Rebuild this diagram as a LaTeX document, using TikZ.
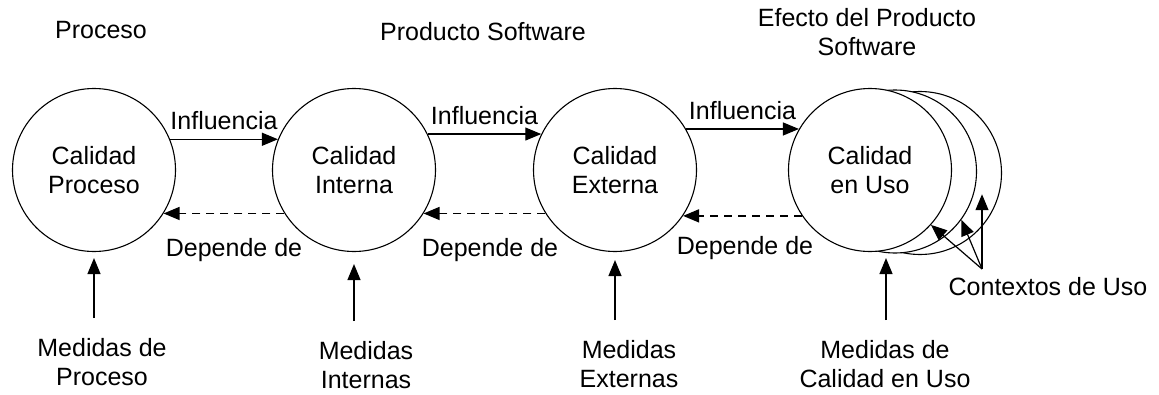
\documentclass[tikz,border=0pt]{standalone}
\usepackage{fontspec}
\setmainfont{Liberation Sans}
\usetikzlibrary{arrows.meta}

\tikzset{
	lbl/.style={font=\fontsize{25}{29}\selectfont, align=center, inner sep=0pt},
	qual/.style={lbl, circle, draw, line width=1.1pt, minimum size=163pt, fill=white},
	arr/.style={line width=1.2pt, -{Triangle[length=16pt,width=13pt]}},
	dep/.style={arr, line width=1.5pt, dash pattern=on 8pt off 6pt}
}

\begin{document}
\begin{tikzpicture}[x=1pt,y=-1pt]
		\useasboundingbox (0,0) rectangle (1159,394);
		% circulos
		\node[qual] (cp) at (94,170) {Calidad\\Proceso};
		\node[qual] (ci) at (354,170) {Calidad\\Interna};
		\node[qual] (ce) at (615,170) {Calidad\\Externa};
		\node[qual] (cu3) at (920,173) {};
		\node[qual] (cu2) at (895,171.5) {};
		\node[qual] (cu) at (870,170) {Calidad\\en Uso};
		% titulos
		\node[lbl] (tp) at (101,30) {Proceso};
		\node[lbl] (ts) at (483,32) {Producto Software};
		\node[lbl] (te) at (867,32) {Efecto del Producto\\Software};
		% influencia
		\draw[arr] (cp.22) -- (ci.158) node[lbl, midway, above=9pt] (i1) {Influencia};
		\draw[arr] (ci.26) -- (ce.154) node[lbl, midway, above=9pt] (i2) {Influencia};
		\draw[arr] (ce.30) -- (cu.150) node[lbl, midway, above=9pt] (i3) {Influencia};
		% depende de
		\draw[dep] (ci.212) -- (cp.-32);
		\draw[dep] (ce.212) -- (ci.-32);
		\draw[dep] (cu.214) -- (ce.-34);
		\node[lbl] (d1) at (234,250) {Depende de};
		\node[lbl] (d2) at (490,250) {Depende de};
		\node[lbl] (d3) at (745,248) {Depende de};
		% medidas
		\node[lbl] (mp) at (102,362) {Medidas de\\Proceso};
		\node[lbl] (mi) at (366,365) {Medidas\\Internas};
		\node[lbl] (me) at (629,364) {Medidas\\Externas};
		\node[lbl] (mu) at (885,364) {Medidas de\\Calidad en Uso};
		\draw[arr, shorten <=20pt, shorten >=6pt] (cp.south |- mp.north) -- (cp.south);
		\draw[arr, shorten <=20pt, shorten >=12pt] (ci.south |- mi.north) -- (ci.south);
		\draw[arr, shorten <=20pt, shorten >=8pt] (ce.south |- me.north) -- (ce.south);
		\draw[arr, shorten <=20pt, shorten >=6pt] ([xshift=16pt]cu.south |- mu.north) -- ([xshift=16pt]cu.south);
		% contextos de uso
		\node[lbl] (cx) at (1048,287) {Contextos de Uso};
		\coordinate (ctx) at (982,269);
		\draw[arr] (ctx) -- (cu.-42);
		\draw[arr] (ctx) -- (cu2.-36);
		\draw[arr] (ctx) -- (ctx |- cu3.-15);
\end{tikzpicture}
\end{document}
